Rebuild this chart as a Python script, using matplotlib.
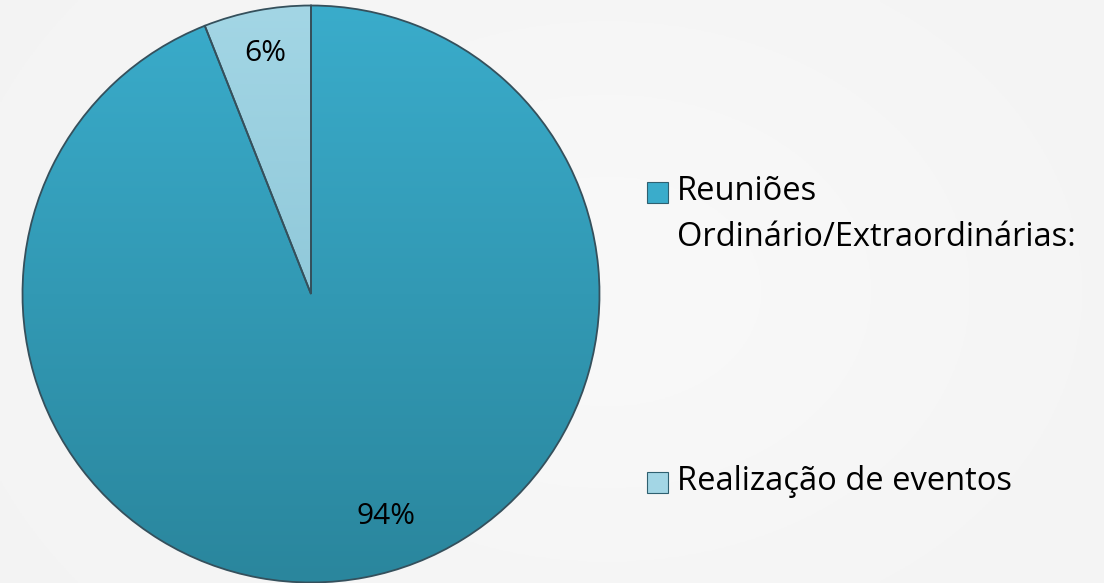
import numpy as np
import matplotlib
matplotlib.use("Agg")
import matplotlib.pyplot as plt
from matplotlib.patches import Rectangle
from matplotlib.colors import LinearSegmentedColormap

categories = ["Reuniões\nOrdinário/Extraordinárias:", "Realização de eventos"]
values = [94, 6]
pct_labels = ["94%", "6%"]

W, H = 1104, 583
fig = plt.figure(figsize=(W / 100, H / 100), dpi=100)
fig.patch.set_facecolor("#f4f4f4")

# subtle background gradient
bg = fig.add_axes([0, 0, 1, 1], zorder=-10)
yy, xx = np.mgrid[0:1:200j, 0:1:400j]
g = 0.955 + 0.02 * np.exp(-((xx - 0.55) ** 2 / 0.15 + (yy - 0.5) ** 2 / 0.3))
bg.imshow(np.dstack([g, g, g]), extent=[0, 1, 0, 1], aspect="auto", origin="lower")
bg.axis("off")

FONT = "Open Sans"
side = 577
ax = fig.add_axes([22.5 / W, 0.5 / H, side / W, side / H])
ax.set_xlim(-1, 1)
ax.set_ylim(-1, 1)
ax.axis("off")

wedges, texts = ax.pie(values, startangle=90, counterclock=False, radius=1.0,
                       colors=["none", "none"],
                       wedgeprops=dict(edgecolor="#35505c", linewidth=1.3))

grads = [("#3aaccb", "#2a869d"), ("#a3d6e5", "#7ebccf")]
for w, (c1, c2) in zip(wedges, grads):
    cmap = LinearSegmentedColormap.from_list("g", [c2, c1])
    grad = np.linspace(0, 1, 256).reshape(-1, 1)
    im = ax.imshow(grad, extent=[-1, 1, -1, 1], origin="lower", cmap=cmap,
                   aspect="auto", zorder=0.5)
    im.set_clip_path(w)
    w.set_zorder(1)

ax.set_xlim(-1, 1)
ax.set_ylim(-1, 1)

# percentage labels
ang = 90.0
for v, lab in zip(values, pct_labels):
    span = v / sum(values) * 360
    mid = np.deg2rad(ang - span / 2)
    if v > 50:
        x, y = 0.26, -0.77
    else:
        r = 0.85
        x, y = r * np.cos(mid), r * np.sin(mid)
    ax.text(x, y, lab, ha="center", va="center", fontsize=21.5, family=FONT,
            color="black", zorder=3)
    ang -= span

# legend
leg_y = [192, 482]
for lab, c, yc in zip(categories, grads, leg_y):
    y0 = (H - yc) / H
    fig.patches.append(Rectangle((647 / W, y0 - 10.5 / H), 21 / W, 21 / H,
                                 transform=fig.transFigure, facecolor=c[0],
                                 edgecolor="#2f6070", linewidth=0.8))
    lines = lab.split("\n")
    for i, ln in enumerate(lines):
        fig.text(677 / W, (H - yc - 45 * i) / H, ln, ha="left", va="center",
                 fontsize=23.5, family=FONT, color="black")

fig.savefig("out.png", dpi=100, facecolor=fig.get_facecolor())
